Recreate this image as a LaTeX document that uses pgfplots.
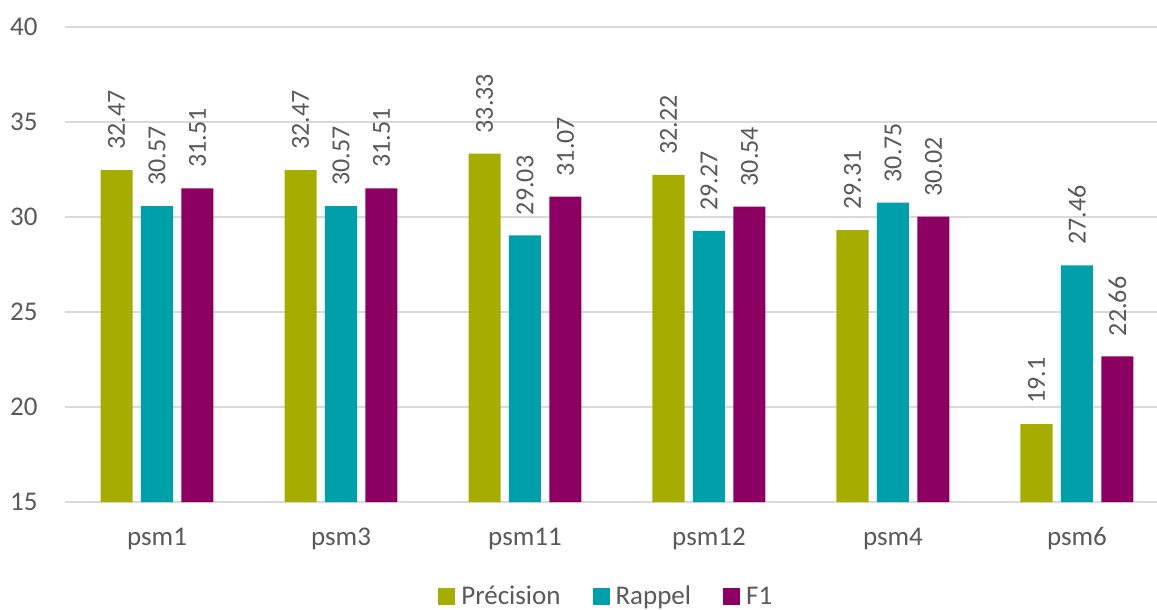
\documentclass[border=0pt]{standalone}
\usepackage{fontspec}
\setmainfont{Carlito}
\usepackage{pgfplots}
\usepackage{pgfplotstable}
\pgfplotsset{compat=1.18}

\definecolor{cPrec}{HTML}{A4AD00}
\definecolor{cRapp}{HTML}{00A0AA}
\definecolor{cFone}{HTML}{8C0061}
\definecolor{txtgray}{HTML}{595959}
\definecolor{gridgray}{HTML}{D9D9D9}

% scores per model (x = category index)
\pgfplotstableread{
x prec rapp f1
0 32.47 30.57 31.51
1 32.47 30.57 31.51
2 33.33 29.03 31.07
3 32.22 29.27 30.54
4 29.31 30.75 30.02
5 19.1  27.46 22.66
}\scores

\begin{document}
\begin{tikzpicture}
\useasboundingbox (-32.5bp,-54bp) rectangle (546bp,251bp);
\begin{axis}[
  at={(0,0)}, anchor=south west,
  scale only axis, width=546bp, height=237.5bp,
  xmin=-0.5, xmax=5.435, ymin=15, ymax=40,
  ytick={15,20,...,40},
  xtick={0,...,5},
  xticklabels={psm1,psm3,psm11,psm12,psm4,psm6},
  axis line style={draw=none},
  major tick length=0pt, tick style={draw=none},
  ymajorgrids, grid style={draw=gridgray, line width=0.9bp},
  /pgf/number format/assume math mode=true,
  ticklabel style={font=\fontsize{13.5bp}{16bp}\selectfont, text=txtgray},
  yticklabel style={anchor=east, inner sep=0pt, xshift=-13.5bp},
  xticklabel style={anchor=base, yshift=-21.5bp},
  ybar, bar width=0.174,
  clip=false,
  nodes near coords,
  every node near coord/.append style={rotate=90, anchor=west,
     inner xsep=10bp, inner ysep=0pt,
     font=\fontsize{13bp}{15bp}\selectfont, text=txtgray},
  legend image code/.code={\fill[#1] (0bp,-4.25bp) rectangle (8.5bp,4.25bp);},
  legend columns=3,
  legend style={at={(0.4975,-0.2)}, anchor=center, draw=none, fill=none,
     font=\fontsize{13.5bp}{16bp}\selectfont, text=txtgray,
     nodes={inner xsep=3bp},
     /tikz/every even column/.append style={column sep=13bp},
     /tikz/every odd column/.append style={column sep=0bp}},
]
\addplot[fill=cPrec, draw=none, bar shift=-0.22] table[x=x, y=prec] {\scores};
\addplot[fill=cRapp, draw=none, bar shift=0] table[x=x, y=rapp] {\scores};
\addplot[fill=cFone, draw=none, bar shift=0.22] table[x=x, y=f1] {\scores};
\legend{Précision, Rappel, F1}
\end{axis}
\end{tikzpicture}
\end{document}
